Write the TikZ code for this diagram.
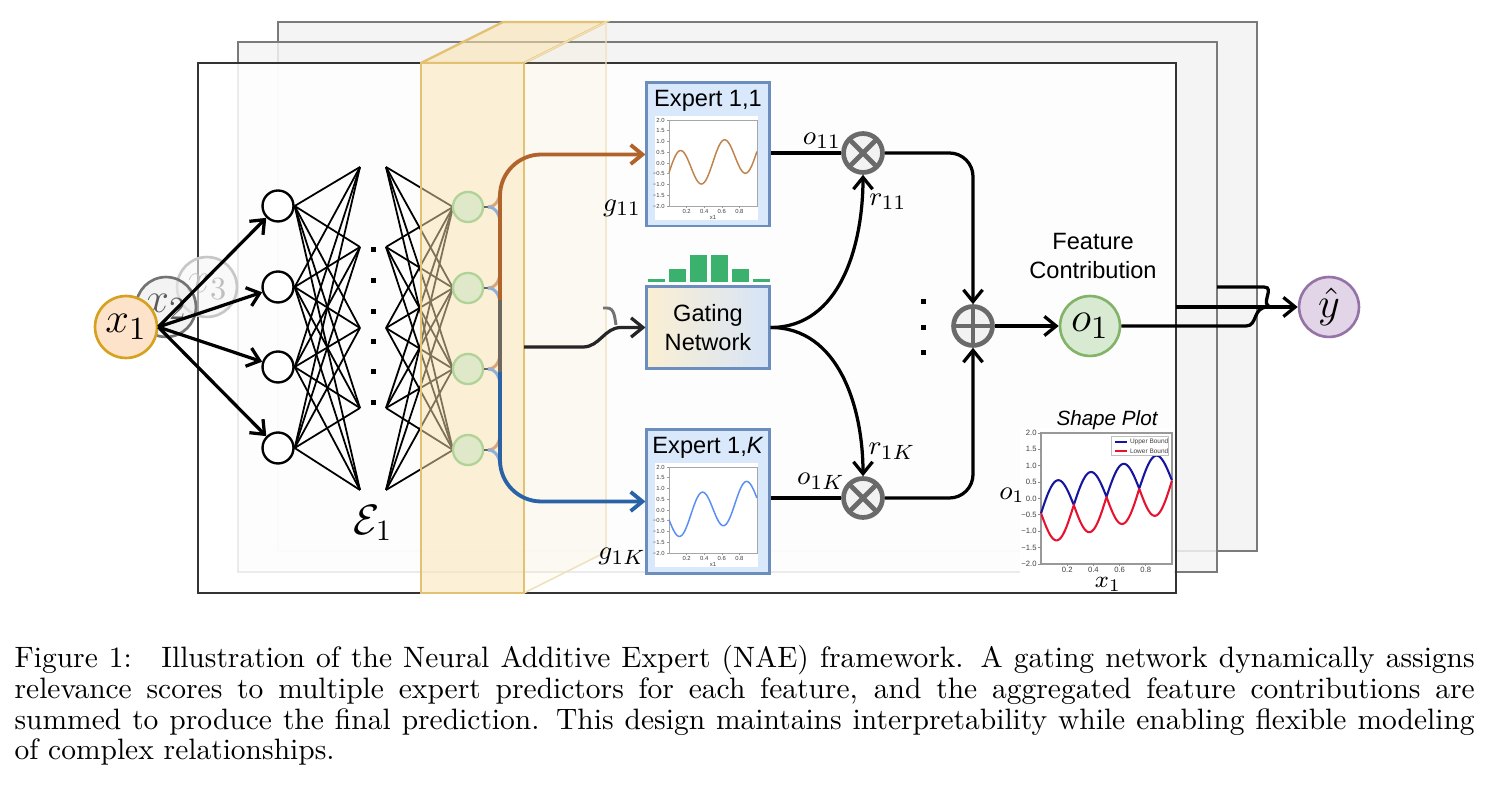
\documentclass[tikz,border=0pt]{standalone}
\usepackage{fontspec}
\newfontfamily\sfa{Liberation Sans}
\usetikzlibrary{arrows.meta}
\definecolor{frameFill}{HTML}{F4F4F4}
\definecolor{frameEdge}{HTML}{7A7A7A}
\definecolor{slabFill}{HTML}{FBE3AE}
\definecolor{slabEdge}{HTML}{E2C272}
\definecolor{xOneFill}{HTML}{FDE3C9}
\definecolor{xOneEdge}{HTML}{D6A11F}
\definecolor{greenFill}{HTML}{DFE9C9}
\definecolor{greenEdge}{HTML}{B2D398}
\definecolor{expFill}{HTML}{DAE8FC}
\definecolor{expEdge}{HTML}{6C8EBF}
\definecolor{gateL}{HTML}{FBEFD3}
\definecolor{gateR}{HTML}{D6E4F7}
\definecolor{barGreen}{HTML}{3BB16E}
\definecolor{opGray}{HTML}{6A6A6A}
\definecolor{opFill}{HTML}{F2F2F2}
\definecolor{oneFill}{HTML}{D9EAD3}
\definecolor{oneEdge}{HTML}{82B366}
\definecolor{yFill}{HTML}{E1D5E7}
\definecolor{yEdge}{HTML}{9673A6}
\definecolor{brn}{HTML}{B0632B}
\definecolor{blu}{HTML}{2A62A6}
\definecolor{brnL}{HTML}{D8A67C}
\definecolor{bluL}{HTML}{8EAFD6}
\definecolor{busGray}{HTML}{6E675F}
\definecolor{plotBrown}{HTML}{C2824C}
\definecolor{plotBlue}{HTML}{5A8EF4}
\definecolor{upBlue}{HTML}{1515A0}
\definecolor{lowRed}{HTML}{E8122E}
\newcommand{\miniplot}[3]{%
 \begin{scope}[shift={(669,#1+43)},xscale=88,yscale=-21.5]
  \draw[black!35,line width=0.3pt] (0,-2) rectangle (1,2);
  \draw[#3,line width=0.5pt] plot[domain=0:1,samples=120] (\x,{-0.45+\x #2 0.9*sin(720*\x)});
  \foreach \v/\t in {2/2.0,1.5/1.5,1/1.0,0.5/0.5,0/0.0,-0.5/−0.5,-1/−1.0,-1.5/−1.5,-2/−2.0}
    {\draw[black!40,line width=0.2pt] (0,\v) -- (-0.025,\v);
     \node[tinyf,anchor=east] at (-0.03,\v) {\t};}
  \foreach \v in {0.2,0.4,0.6,0.8}
    {\draw[black!40,line width=0.2pt] (\v,-2) -- (\v,-2.08);
     \node[tinyf,anchor=north] at (\v,-2.08) {\v};}
  \node[tinyf,anchor=north] at (0.5,-2.35) {x1};
 \end{scope}}
\begin{document}
\begin{tikzpicture}[x=0.339pt,y=-0.339pt,
  >={Straight Barb[length=4pt,width=6.5pt]},
  conn/.style={line width=1.1pt},
  nnline/.style={line width=0.6pt},
  neuron/.style={circle,draw,line width=0.8pt,fill=white,minimum size=10.5pt,inner sep=0pt},
  gnode/.style={circle,draw=greenEdge,fill=greenFill,line width=0.8pt,minimum size=10.2pt,inner sep=0pt},
  expbox/.style={draw=expEdge,fill=expFill,line width=1pt,minimum width=41.4pt,minimum height=48.5pt,inner sep=0pt},
  opnode/.style={circle,draw=opGray,fill=opFill,line width=1.6pt,minimum size=13.2pt,inner sep=0pt},
  mult/.style={opnode,path picture={\draw[opGray,line width=1.6pt] (path picture bounding box.north west) -- (path picture bounding box.south east) (path picture bounding box.north east) -- (path picture bounding box.south west);}},
  addop/.style={opnode,path picture={\draw[opGray,line width=1.6pt] (path picture bounding box.north) -- (path picture bounding box.south) (path picture bounding box.east) -- (path picture bounding box.west);}},
  sanslab/.style={font=\sfa\fontsize{8}{10.1}\selectfont,inner sep=0pt},
  mlab/.style={font=\fontsize{9.5}{11}\selectfont,inner sep=0pt},
  bigmath/.style={font=\fontsize{15}{17}\selectfont,inner sep=0pt},
  tinyf/.style={font=\sfa\fontsize{2}{2.2}\selectfont,inner sep=0.4pt,text=black!75},
  smallf/.style={font=\sfa\fontsize{2.6}{3}\selectfont,inner sep=0.2pt,text=black!75},
]
\useasboundingbox (0,0) rectangle (1489,794);
% back frames
\draw[frameEdge,line width=0.9pt,fill=frameFill] (278,22) rectangle (1257,551);
\draw[frameEdge,line width=0.9pt,fill=frameFill,fill opacity=0.85] (238,42) rectangle (1217,572);
\draw[slabEdge,line width=0.8pt,fill=slabFill,fill opacity=0.55] (421,63) -- (503,22) -- (606,22) -- (524,63) -- cycle;
\draw[black!80,line width=0.9pt,fill=white,fill opacity=0.85] (198,63) rectangle (1176,593);
\draw[slabEdge!50,line width=0.5pt,fill=slabFill,fill opacity=0.12] (524,63) -- (606,22) -- (606,552) -- (524,593) -- cycle;
% inputs
\foreach \i/\y in {1/206,2/287,3/367,4/448} \node[neuron] (n\i) at (278,\y) {};
\node[circle,draw=black!22,fill=black!3,fill opacity=0.6,text opacity=1,line width=0.9pt,minimum size=20.3pt,bigmath,text=black!25] (x3) at (207,287) {$x_3$};
\node[circle,draw=black!55,fill=black!8,fill opacity=0.6,text opacity=1,line width=0.9pt,minimum size=20.3pt,bigmath,text=black!65] (x2) at (166,307) {$x_2$};
\node[circle,draw=xOneEdge,fill=xOneFill,line width=0.9pt,minimum size=21pt,bigmath] (x1) at (126,327) {$x_1$};
\foreach \i in {1,...,4} \draw[conn,->] (x1.east) -- (n\i);
% network
\foreach \j/\y in {1/167,2/247,3/328,4/408,5/490} {\coordinate (a\j) at (360,\y); \coordinate (b\j) at (386,\y);}
\foreach \i/\y in {1/207,2/288,3/369,4/450} \coordinate (gw\i) at (453,\y);
\foreach \i in {1,...,4} \foreach \j in {1,...,5} \draw[nnline] (n\i.east) -- (a\j);
\foreach \i in {1,...,4} \foreach \j in {1,...,5} \draw[nnline] (b\j) -- (gw\i);
\foreach \y in {250,281,312,342,372,403} \fill (370.5,\y-2.5) rectangle (375.5,\y+2.5);
\node[font=\fontsize{14}{16}\selectfont,inner sep=0pt] (E1) at (373,523) {$\mathcal{E}_1$};
% slab front face
\draw[slabEdge,line width=0.8pt,fill=slabFill,fill opacity=0.5] (421,63) rectangle (524,593);
% experts
\node[expbox] (e11) at (708,154.5) {};
\node[expbox] (e1K) at (708,501.5) {};
\node[sanslab] (t11) at (708,101) {Expert 1,1};
\node[sanslab] (t1K) at (708,448) {Expert 1,\textit{K}};
\fill[white] (655,116) rectangle (758,220);
\fill[white] (655,463) rectangle (758,567);
\miniplot{120}{+}{plotBrown}
\miniplot{467}{-}{plotBlue}
% gating
\foreach \xa/\h in {648/2.5,669/13,690/27,711/27,732/13,753/2.5} \fill[barGreen] (\xa,282-\h) rectangle (\xa+16.5,282);
\node[draw=expEdge,line width=1pt,left color=gateL,right color=gateR,minimum width=41.4pt,minimum height=27.5pt,sanslab,align=center] (gate) at (708,327.5) {Gating\\Network};
% green output nodes and buses
\foreach \i/\y in {1/207,2/288,3/369,4/450} {
  \node[gnode] (g\i) at (468,\y) {};
  \coordinate (s\i) at (488,\y);
  \draw[black!60,line width=0.9pt] (g\i.east) -- (s\i);
  \draw[brnL,line width=1pt] (s\i) to[out=0,in=-90] (500,\y-16);
  \draw[bluL,line width=1pt] (s\i) to[out=0,in=90] (500,\y+16);
}
\coordinate (busA) at (500,300);
\coordinate (busB) at (500,372);
\draw[brn,line width=1.3pt,->,rounded corners=14] (busA) |- (e11.west);
\draw[busGray,line width=1.3pt] (busA) -- (busB);
\draw[blu,line width=1.3pt,->,rounded corners=14] (busB) |- (e1K.west);
\coordinate (gin) at (524,347);
\coordinate (hk) at (603,308);
\draw[black!85,line width=1.1pt,->] (gin) -- (583,347) to[out=0,in=180] (621,327.5) -- (gate.west);
\draw[black!55,line width=1pt] (hk) -- (607,308) to[out=0,in=100] (616,325);
\node[mlab] (lg11) at (622,208) {$g_{11}$};
\node[mlab] (lg1K) at (622,556) {$g_{1K}$};
% operators
\node[mult] (m1) at (863,153) {};
\node[mult] (m2) at (863,498) {};
\node[addop] (plus) at (973,326) {};
\node[circle,draw=oneEdge,fill=oneFill,line width=0.9pt,minimum size=20.3pt,bigmath] (o1) at (1090,326) {$o_1$};
\draw[conn] (e11.east |- m1) -- (m1.west);
\draw[conn] (e1K.east |- m2) -- (m2.west);
\draw[conn,->] (gate.east) to[out=0,in=-90] (m1.south);
\draw[conn,->] (gate.east) to[out=0,in=90] (m2.north);
\draw[conn,->,rounded corners=8] (m1.east) -| (plus.north);
\draw[conn,->,rounded corners=8] (m2.east) -| (plus.south);
\draw[conn,->] (plus.east) -- (o1.west);
\node[mlab] (lo11) at (822,141) {$o_{11}$};
\node[mlab] (lr11) at (888,202) {$r_{11}$};
\node[mlab] (lr1K) at (892,451) {$r_{1K}$};
\node[mlab] (lo1K) at (821,481) {$o_{1K}$};
\foreach \y in {302,328,353} \fill (920.5,\y-2.5) rectangle (925.5,\y+2.5);
\node[sanslab,align=center] (fc) at (1093,256) {Feature\\Contribution};
% output
\node[circle,draw=yEdge,fill=yFill,line width=0.9pt,minimum size=20.3pt,bigmath] (yh) at (1329,307) {$\hat{y}$};
\coordinate (fB) at (1176,307);
\coordinate (fA) at (1217,287);
\draw[conn,->] (fB) -- (yh.west);
\draw[conn] (fA) -- (1264,287) .. controls (1276,287) and (1258,306) .. (1272,307);
\draw[conn] (o1.east) -- (1246,326) .. controls (1258,326) and (1252,307) .. (1268,307);
% shape plot
\fill[white] (1020,428) rectangle (1174,589);
\begin{scope}[shift={(1041,498.5)},xscale=131,yscale=-32.75]
 \draw[black!40,line width=0.4pt] (0,-2) rectangle (1,2);
 \draw[upBlue,line width=0.7pt] plot[domain=0:1,samples=200] (\x,{-0.45+\x+0.88*abs(sin(720*\x))});
 \draw[lowRed,line width=0.7pt] plot[domain=0:1,samples=200] (\x,{-0.45+\x-0.95*abs(sin(720*\x))});
 \foreach \v/\t in {2/2.0,1.5/1.5,1/1.0,0.5/0.5,0/0.0,-0.5/−0.5,-1/−1.0,-1.5/−1.5,-2/−2.0}
   {\draw[black!45,line width=0.3pt] (0,\v) -- (-0.02,\v);
    \node[smallf,anchor=east] at (-0.025,\v) {\t};}
 \foreach \v in {0.2,0.4,0.6,0.8}
   {\draw[black!45,line width=0.3pt] (\v,-2) -- (\v,-2.06);
    \node[smallf,anchor=north] at (\v,-2.06) {\v};}
 \draw[black!25,line width=0.3pt,fill=white] (0.54,1.88) rectangle (0.975,1.32);
 \draw[upBlue,line width=0.7pt] (0.565,1.73) -- (0.655,1.73);
 \node[font=\sfa\fontsize{2.2}{2.5}\selectfont,inner sep=0pt,anchor=west,text=black!75] at (0.675,1.73) {Upper Bound};
 \draw[lowRed,line width=0.7pt] (0.565,1.46) -- (0.655,1.46);
 \node[font=\sfa\fontsize{2.2}{2.5}\selectfont,inner sep=0pt,anchor=west,text=black!75] at (0.675,1.46) {Lower Bound};
\end{scope}
\node[font=\sfa\itshape\fontsize{7}{8}\selectfont,inner sep=0pt] (sp) at (1107,420) {Shape Plot};
\node[font=\fontsize{9}{10}\selectfont,inner sep=0pt] (so) at (1012,495) {$o_1$};
\node[font=\fontsize{8.5}{10}\selectfont,inner sep=0pt,anchor=north] (sx) at (1108,577) {$x_1$};
% caption
\node[anchor=north west,inner sep=0pt,text width=495pt,align=justify,font=\fontsize{10}{10.4}\selectfont] (cap) at (14,645) {Figure 1:\quad Illustration of the Neural Additive Expert (NAE) framework. A gating network dynamically assigns\linebreak relevance scores to multiple expert predictors for each feature, and the aggregated feature contributions are\linebreak summed to produce the final prediction. This design maintains interpretability while enabling flexible modeling\linebreak of complex relationships.};
\end{tikzpicture}
\end{document}
